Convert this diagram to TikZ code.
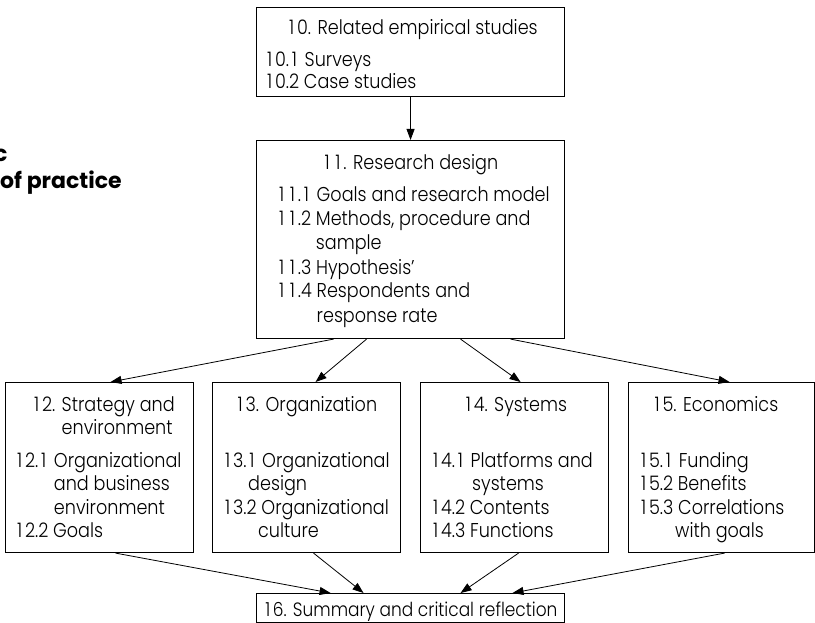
\documentclass[tikz,border=0pt]{standalone}
\usepackage{fontspec}
\IfFontExistsTF{Poppins Light}{\setmainfont[FakeStretch=0.88]{Poppins Light}}{\setmainfont[FakeStretch=0.88]{Poppins}}
\newfontfamily\boldfam{Poppins Bold}
\usetikzlibrary{arrows.meta}
\newcommand\one{\hbox to \fontcharwd\font`0{\hss 1\hss}}
\newcommand\hangby[1]{\hphantom{#1\space}}
\tikzset{
  box/.style={draw=black, line width=1.1pt, inner sep=0pt, anchor=north west},
  txt/.style={inner sep=0pt, anchor=base west, font=\fontsize{20}{22}\selectfont},
  ctxt/.style={txt, anchor=base},
  conn/.style={line width=0.8pt, -{Triangle[length=11pt,width=8pt]}},
  lefttxt/.style={inner sep=0pt, anchor=base west, font=\boldfam\fontsize{22}{24}\selectfont}
}
\begin{document}
\begin{tikzpicture}[x=1pt,y=-1pt]
\useasboundingbox (0,0) rectangle (815,623);
% partial text on the left
\node[lefttxt] (lc) at (-6,162) {c};
\node[lefttxt] (lp) at (0,189) {of practice};
% boxes
\node[box, minimum width=308pt, minimum height=89pt] (b10) at (256,7) {};
\node[box, minimum width=308pt, minimum height=198pt] (b11) at (256,140) {};
\node[box, minimum width=188pt, minimum height=170pt] (b12) at (5,382) {};
\node[box, minimum width=188pt, minimum height=170pt] (b13) at (212,382) {};
\node[box, minimum width=188pt, minimum height=170pt] (b14) at (420,382) {};
\node[box, minimum width=186pt, minimum height=170pt] (b15) at (628,382) {};
\node[box, minimum width=308pt, minimum height=29pt] (b16) at (256,593) {};
% box 10
\node[ctxt] (t10) at (412,35) {\one0. Related empirical studies};
\node[txt] (t101) at (264,67) {\one0.\one{} Surveys};
\node[txt] (t102) at (264,89) {\one0.2 Case studies};
% box 11
\node[ctxt] (t11) at (410,170) {\one\one. Research design};
\node[txt] (t111) at (276,202) {\one\one.\one{} Goals and research model};
\node[txt] (t112) at (276,226) {\one\one.2 Methods, procedure and};
\node[txt] (t112b) at (276,250) {\hangby{\one\one.2}sample};
\node[txt] (t113) at (276,274) {\one\one.3 Hypothesis’};
\node[txt] (t114) at (276,298) {\one\one.4 Respondents and};
\node[txt] (t114b) at (276,322) {\hangby{\one\one.4}response rate};
% box 12
\node[txt] (t12) at (31,411) {\one2. Strategy and};
\node[txt] (t12b) at (31,434) {\hangby{\one2.}environment};
\node[txt] (t121) at (14,467) {\one2.\one{} Organizational};
\node[txt] (t121b) at (14,490) {\hangby{\one2.\one}and business};
\node[txt] (t121c) at (14,514) {\hangby{\one2.\one}environment};
\node[txt] (t122) at (14,537) {\one2.2 Goals};
% box 13
\node[ctxt] (t13) at (306,411) {\one3. Organization};
\node[txt] (t131) at (222,467) {\one3.\one{} Organizational};
\node[txt] (t131b) at (248,490) {design};
\node[txt] (t132) at (222,514) {\one3.2 Organizational};
\node[txt] (t132b) at (258,537) {culture};
% box 14
\node[ctxt] (t14) at (515,411) {\one4. Systems};
\node[txt] (t141) at (430,467) {\one4.\one{} Platforms and};
\node[txt] (t141b) at (472,490) {systems};
\node[txt] (t142) at (430,514) {\one4.2 Contents};
\node[txt] (t143) at (430,537) {\one4.3 Functions};
% box 15
\node[ctxt] (t15) at (715,411) {\one5. Economics};
\node[txt] (t151) at (638,467) {\one5.\one{} Funding};
\node[txt] (t152) at (638,490) {\one5.2 Benefits};
\node[txt] (t153) at (638,514) {\one5.3 Correlations};
\node[txt] (t153b) at (675,537) {with goals};
% box 16
\node[ctxt, font=\fontsize{19.3}{22}\selectfont] (t16) at (410,616) {\one6. Summary and critical reflection};
% connectors
\draw[conn] (b10.south) -- (b11.north);
\draw[conn] ([xshift=-77pt]b11.south) -- ([xshift=11pt]b12.north);
\draw[conn] ([xshift=-44pt]b11.south) -- ([xshift=9pt]b13.north);
\draw[conn] ([xshift=50pt]b11.south) -- ([xshift=6pt]b14.north);
\draw[conn] ([xshift=100pt]b11.south) -- ([xshift=8pt]b15.north);
\draw[conn] ([xshift=16pt]b12.south) -- ([xshift=-80pt]b16.north);
\draw[conn] ([xshift=7pt]b13.south) -- ([xshift=-47pt]b16.north);
\draw[conn] ([xshift=4pt]b14.south) -- ([xshift=50pt]b16.north);
\draw[conn] ([xshift=3pt]b15.south) -- ([xshift=102pt]b16.north);
\end{tikzpicture}
\end{document}
